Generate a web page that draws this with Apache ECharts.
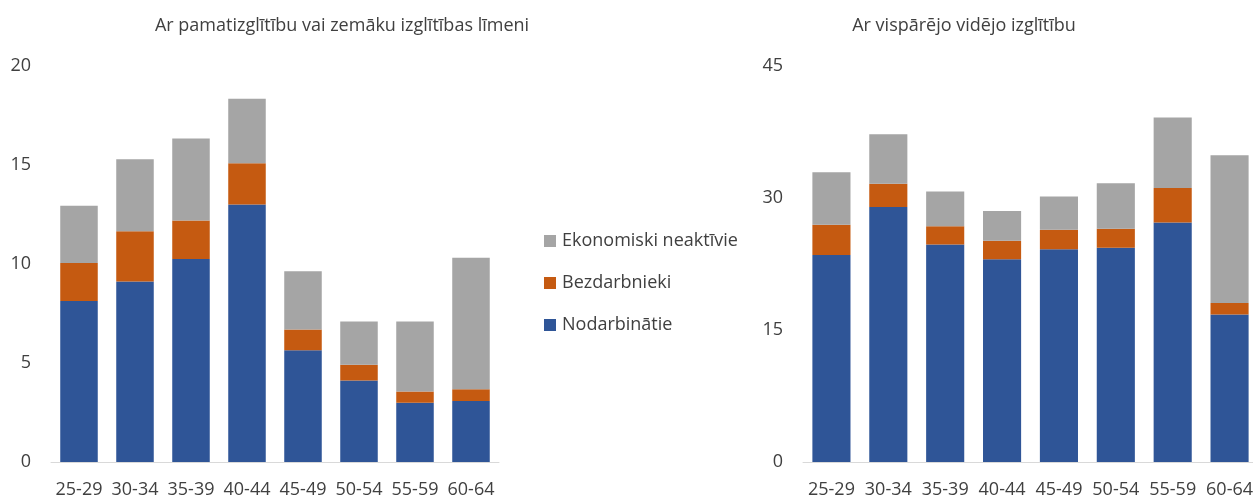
<!DOCTYPE html>
<html>
<head>
<meta charset="utf-8">
<title>Izglītības līmenis</title>
<script src="https://cdn.jsdelivr.net/npm/echarts@6/dist/echarts.min.js"></script>
<style>
  html, body { margin: 0; padding: 0; background: #fff; }
  #chart { width: 1253px; height: 500px; }
</style>
</head>
<body>
<div id="chart"></div>
<script>
// age groups
const ageGroups = ['25-29', '30-34', '35-39', '40-44', '45-49', '50-54', '55-59', '60-64'];

// left panel: basic education or lower
const lowEmployed = [8.13, 9.11, 10.25, 13.01, 5.65, 4.12, 2.99, 3.08];
const lowUnemployed = [1.92, 2.55, 1.95, 2.08, 1.04, 0.79, 0.57, 0.60];
const lowInactive = [2.89, 3.63, 4.14, 3.26, 2.94, 2.18, 3.53, 6.64];

// right panel: general secondary education
const secEmployed = [23.52, 28.97, 24.73, 23.03, 24.17, 24.36, 27.23, 16.75];
const secUnemployed = [3.45, 2.65, 2.05, 2.12, 2.23, 2.15, 3.90, 1.33];
const secInactive = [5.97, 5.63, 3.97, 3.37, 3.78, 5.18, 8.02, 16.79];

const names = ['Nodarbinātie', 'Bezdarbnieki', 'Ekonomiski neaktīvie'];
const colors = ['#2F5597', '#C55A11', '#A5A5A5'];
const font = '"Open Sans", "Noto Sans", sans-serif';
const textColor = '#404040';

const chart = echarts.init(document.getElementById('chart'));

const xAxisBase = {
  type: 'category',
  data: ageGroups,
  axisTick: { show: false },
  axisLine: { lineStyle: { color: '#D9D9D9', width: 1 } },
  axisLabel: { color: textColor, fontSize: 18, fontFamily: font, margin: 19, interval: 0 }
};
const yAxisBase = {
  type: 'value',
  min: 0,
  axisLine: { show: false },
  axisTick: { show: false },
  splitLine: { show: false },
  axisLabel: { color: textColor, fontSize: 18, fontFamily: font, margin: 20 }
};

function bar(name, data, idx, color) {
  return {
    name: name,
    type: 'bar',
    stack: 's' + idx,
    xAxisIndex: idx,
    yAxisIndex: idx,
    barWidth: '67%',
    itemStyle: { color: color },
    data: data
  };
}

const option = {
  animation: false,
  textStyle: { fontFamily: font },
  title: [
    {
      text: 'Ar pamatizglītību vai zemāku izglītības līmeni',
      left: 337, top: 12, textAlign: 'center',
      textStyle: { fontSize: 18, fontWeight: 'normal', color: textColor, fontFamily: font }
    },
    {
      text: 'Ar vispārējo vidējo izglītību',
      left: 959, top: 12, textAlign: 'center',
      textStyle: { fontSize: 18, fontWeight: 'normal', color: textColor, fontFamily: font }
    }
  ],
  legend: {
    orient: 'vertical',
    left: 539,
    top: 227,
    itemGap: 24,
    itemWidth: 12,
    itemHeight: 12,
    icon: 'rect',
    data: [names[2], names[1], names[0]],
    textStyle: { color: textColor, fontSize: 18, fontFamily: font, padding: [0, 0, 0, 1] }
  },
  grid: [
    { left: 51, width: 448, top: 66, bottom: 38, outerBoundsMode: 'none' },
    { left: 803, width: 455, top: 66, bottom: 38, outerBoundsMode: 'none' }
  ],
  xAxis: [
    Object.assign({ gridIndex: 0 }, xAxisBase),
    Object.assign({ gridIndex: 1 }, xAxisBase)
  ],
  yAxis: [
    Object.assign({ gridIndex: 0, max: 20, interval: 5 }, yAxisBase),
    Object.assign({ gridIndex: 1, max: 45, interval: 15 }, yAxisBase)
  ],
  series: [
    bar(names[0], lowEmployed, 0, colors[0]),
    bar(names[1], lowUnemployed, 0, colors[1]),
    bar(names[2], lowInactive, 0, colors[2]),
    bar(names[0], secEmployed, 1, colors[0]),
    bar(names[1], secUnemployed, 1, colors[1]),
    bar(names[2], secInactive, 1, colors[2])
  ]
};

chart.setOption(option);
</script>
</body>
</html>
